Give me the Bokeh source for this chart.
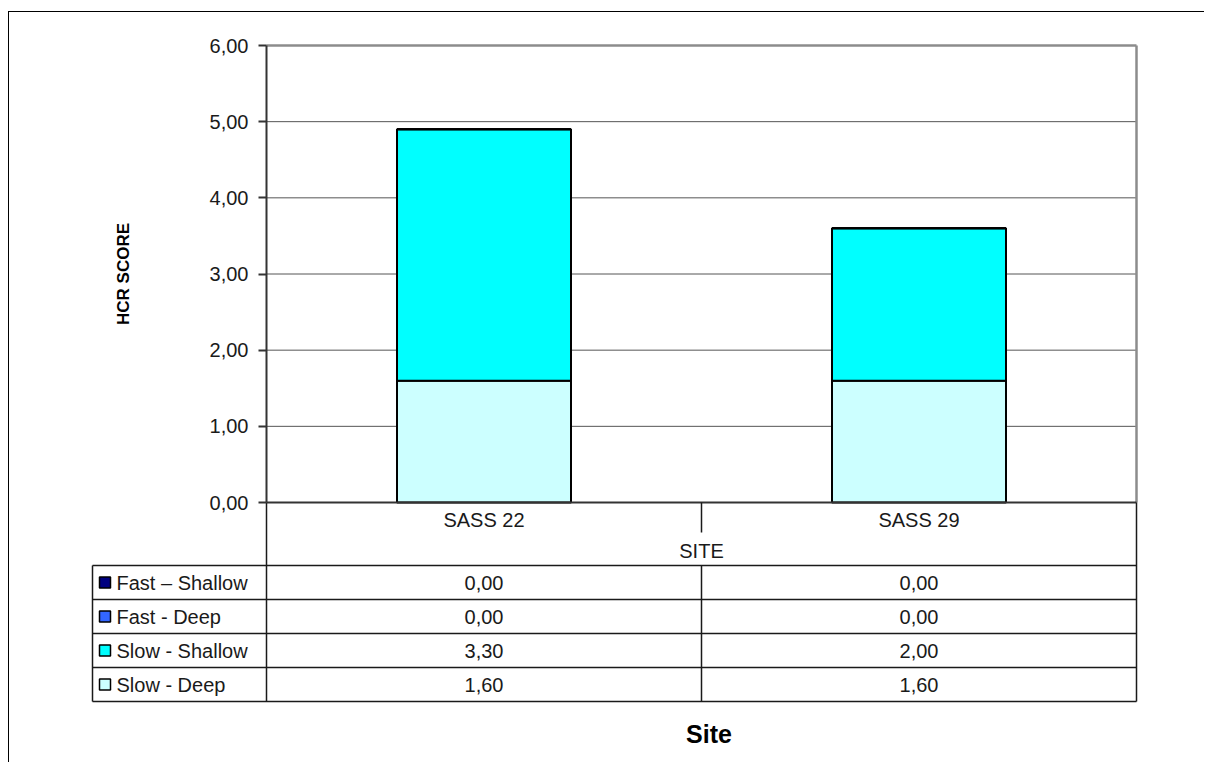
from bokeh.plotting import figure
from bokeh.models import Range1d, FixedTicker, ColumnDataSource
from bokeh.layouts import column
from bokeh.embed import file_html
from bokeh.resources import INLINE
from bokeh.core.properties import value

# ---------------- data ----------------
sites = ["SASS 22", "SASS 29"]
series_names = ["Fast \u2013 Shallow", "Fast - Deep", "Slow - Shallow", "Slow - Deep"]
fast_shallow = [0.00, 0.00]
fast_deep = [0.00, 0.00]
slow_shallow = [3.30, 2.00]
slow_deep = [1.60, 1.60]
series_colors = ["#000080", "#3366FF", "#00FFFF", "#CCFFFF"]
y_ticks = [0, 1, 2, 3, 4, 5, 6]
y_tick_labels = ["0,00", "1,00", "2,00", "3,00", "4,00", "5,00", "6,00"]
x_title = "SITE"
y_title = "HCR SCORE"
table_title = "Site"

# ---------------- layout constants (page pixels) ----------------
FONT = "Liberation Sans"
TXT = "#1a1a1a"
FIG_X, FIG_Y = 9, 12
FRAME_L, FRAME_R = 60, 1138
FRAME_T, FRAME_B = 20, 759
AX_X, AX_Y0 = 266, 502          # y-axis position and score 0 baseline
PX_X = 435.0                    # px per category
PX_Y = 457.0 / 6                # px per score unit
HDR_W = 174.0                   # table row-header column width

n = len(sites)
xs = [i + 0.5 for i in range(n)]

def fmt(v):
    return f"{v:.2f}".replace(".", ",")

x_start = -(AX_X - FRAME_L) / PX_X
x_end = n + (FRAME_R - (AX_X + n * PX_X)) / PX_X
y_start = -(FRAME_B - AX_Y0) / PX_Y
y_end = (AX_Y0 - FRAME_T) / PX_Y

p = figure(frame_width=FRAME_R - FRAME_L, frame_height=FRAME_B - FRAME_T,
           x_range=Range1d(x_start, x_end), y_range=Range1d(y_start, y_end),
           min_border_left=FRAME_L - FIG_X, min_border_right=1195 - (FRAME_R - FIG_X),
           min_border_top=FRAME_T - FIG_Y, min_border_bottom=3,
           x_axis_location=None, output_backend="svg", toolbar_location=None)
p.outline_line_color = None
p.grid.visible = False
# table coordinates: pixel offset below the score baseline
p.extra_y_ranges = {"tbl": Range1d(start=FRAME_B - AX_Y0, end=FRAME_T - AX_Y0)}

# ---------------- y axis ----------------
ya = p.yaxis[0]
ya.fixed_location = 0
ya.bounds = (y_ticks[0], y_ticks[-1])
ya.ticker = FixedTicker(ticks=y_ticks)
ya.major_label_overrides = {t: l for t, l in zip(y_ticks, y_tick_labels)}
ya.minor_tick_line_color = None
ya.major_tick_in = 0
ya.major_tick_out = 8
ya.major_tick_line_color = "#333333"
ya.major_tick_line_width = 2
ya.axis_line_color = "#333333"
ya.axis_line_width = 2
ya.major_label_text_font = FONT
ya.major_label_text_font_size = "20px"
ya.major_label_text_color = TXT
ya.major_label_standoff = 10
ya.axis_label = y_title
ya.axis_label_text_font = FONT
ya.axis_label_text_font_style = "bold"
ya.axis_label_text_font_size = "17px"
ya.axis_label_text_color = "#000000"
ya.axis_label_standoff = 74

# ---------------- plot area: gridlines & border ----------------
inner = y_ticks[1:-1]
p.segment(x0=[0] * len(inner), x1=[n] * len(inner), y0=inner, y1=inner,
          line_color="#555555", line_width=1)
p.segment(x0=[0, n], x1=[n, n], y0=[y_ticks[-1], y_ticks[-1]], y1=[y_ticks[-1], 0],
          line_color="#8c8c8c", line_width=2.5)

# ---------------- stacked bars ----------------
src = ColumnDataSource(dict(x=xs, slow_deep=slow_deep, slow_shallow=slow_shallow,
                            fast_deep=fast_deep, fast_shallow=fast_shallow))
stackers = ["slow_deep", "slow_shallow", "fast_deep", "fast_shallow"]
stack_colors = [series_colors[3], series_colors[2], series_colors[1], series_colors[0]]
p.vbar_stack(stackers, x="x", width=0.4, source=src, fill_color=stack_colors,
             line_color="black", line_width=2)

# ---------------- data table ----------------
T = "tbl"
x0 = -HDR_W / PX_X
row_edges = [63, 97, 131, 165, 199]
LC = "#1a1a1a"
p.segment(x0=[0], x1=[n], y0=[0], y1=[0], line_color="#333333", line_width=2, y_range_name=T)
p.segment(x0=[x0] * len(row_edges), x1=[n] * len(row_edges), y0=row_edges, y1=row_edges,
          line_color=LC, line_width=1.5, y_range_name=T)
p.segment(x0=[x0, 0, n], x1=[x0, 0, n], y0=[row_edges[0], 0, 0], y1=[row_edges[-1]] * 3,
          line_color=LC, line_width=1.5, y_range_name=T)
mids = list(range(1, n))
p.segment(x0=mids, x1=mids, y0=[0] * len(mids), y1=[30] * len(mids),
          line_color=LC, line_width=1.5, y_range_name=T)
p.segment(x0=mids, x1=mids, y0=[row_edges[0]] * len(mids), y1=[row_edges[-1]] * len(mids),
          line_color=LC, line_width=1.5, y_range_name=T)

p.text(x=xs, y=[17] * n, text=sites, text_font=value(FONT), text_font_size="20px",
       text_color=TXT, text_align="center", text_baseline="middle", y_range_name=T)
p.text(x=[n / 2], y=[48], text=[x_title], text_font=value(FONT), text_font_size="20px",
       text_color=TXT, text_align="center", text_baseline="middle", y_range_name=T)

row_values = [fast_shallow, fast_deep, slow_shallow, slow_deep]
row_centers = [(row_edges[i] + row_edges[i + 1]) / 2 for i in range(len(row_values))]
for r, vals in enumerate(row_values):
    p.text(x=xs, y=[row_centers[r]] * n, text=[fmt(v) for v in vals],
           text_font=value(FONT), text_font_size="20px", text_color=TXT,
           text_align="center", text_baseline="middle", y_range_name=T)

p.scatter(x=[x0 + 12.5 / PX_X] * 4, y=row_centers, marker="square", size=11,
          fill_color=series_colors, line_color="black", line_width=1.5, y_range_name=T)
p.text(x=[x0 + 24 / PX_X] * 4, y=row_centers, text=series_names,
       text_font=value(FONT), text_font_size="20px", text_color=TXT,
       text_align="left", text_baseline="middle", y_range_name=T)

p.text(x=[n / 2 + 7.5 / PX_X], y=[231], text=[table_title], text_font=value(FONT),
       text_font_size="25px", text_font_style="bold", text_color="#000000",
       text_align="center", text_baseline="middle", y_range_name=T)

layout = column(p, margin=(11, 0, 0, 8),
                styles={"border-top": "1px solid black", "border-left": "1px solid black"})

open("out.html", "w").write(file_html(layout, INLINE))
